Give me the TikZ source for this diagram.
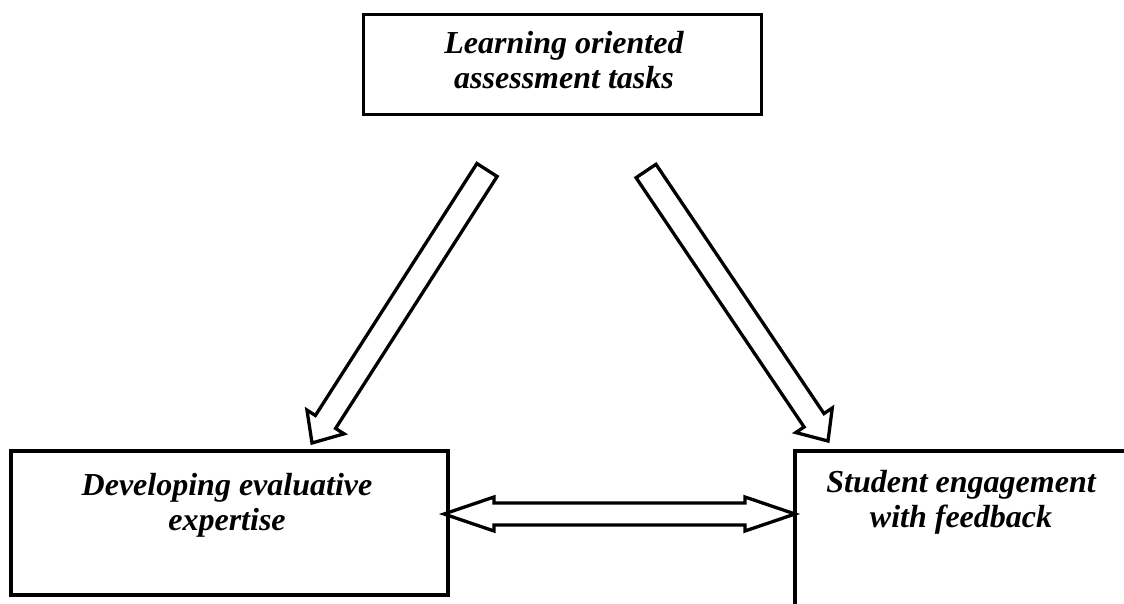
\documentclass[tikz,border=0pt]{standalone}
\usepackage{fontspec}
\setmainfont{Liberation Serif}
\usetikzlibrary{calc}
\tikzset{
  boxnode/.style={draw, line width=3.8pt, rectangle, inner sep=0pt},
  labeltext/.style={font=\bfseries\itshape\fontsize{32}{35.5}\selectfont, align=center, inner sep=0pt, anchor=north},
  blockarrow/.style={draw, line width=3.3pt, line join=miter},
}
% #1 start, #2 tip, #3 shaft half width, #4 head half width, #5 head length
\newcommand\blockarr[5]{%
  \coordinate (#1h) at ($(#2)!#5!(#1)$);
  \draw[blockarrow] ($(#1)!#3!90:(#2)$) -- ($(#1h)!#3!-90:(#1)$) -- ($(#1h)!#4!-90:(#1)$)
    -- (#2) -- ($(#1h)!#4!90:(#1)$) -- ($(#1h)!#3!90:(#1)$) -- ($(#1)!#3!-90:(#2)$) -- cycle;}
\newcommand\dblarr[5]{%
  \coordinate (#1h) at ($(#1)!#5!(#2)$);
  \coordinate (#2h) at ($(#2)!#5!(#1)$);
  \draw[blockarrow] (#1) -- ($(#1h)!#4!90:(#2)$) -- ($(#1h)!#3!90:(#2)$) -- ($(#2h)!#3!-90:(#1)$)
    -- ($(#2h)!#4!-90:(#1)$) -- (#2) -- ($(#2h)!#4!90:(#1)$) -- ($(#2h)!#3!90:(#1)$)
    -- ($(#1h)!#3!-90:(#2)$) -- ($(#1h)!#4!-90:(#2)$) -- cycle;}
\begin{document}
\begin{tikzpicture}[x=1pt, y=-1pt]
  \useasboundingbox (0,0) rectangle (1124,604);
  \clip (0,0) rectangle (1124,604);
  % arrows
  \coordinate (la) at (487,170);
  \coordinate (lb) at (312,443);
  \blockarr{la}{lb}{12pt}{22pt}{25pt}
  \coordinate (ra) at (646,171);
  \coordinate (rb) at (828,441);
  \blockarr{ra}{rb}{12pt}{22pt}{25pt}
  \coordinate (da) at (444,514);
  \coordinate (db) at (795,514);
  \dblarr{da}{db}{11pt}{17pt}{50pt}
  % boxes
  \node[boxnode, minimum width=398pt, minimum height=100pt] (top) at (562.5,64.5) {};
  \node[boxnode, minimum width=437pt, minimum height=144pt] (dev) at (229.5,523) {};
  \node[boxnode, minimum width=335pt, minimum height=169pt] (stu) at (962.5,535.5) {};
  % texts
  \node[labeltext] (toptxt) at (564,31) {Learning oriented\\assessment tasks};
  \node[labeltext] (devtxt) at (227,473) {Developing evaluative\\expertise};
  \node[labeltext] (stutxt) at (961,470) {Student engagement\\with feedback};
\end{tikzpicture}
\end{document}
